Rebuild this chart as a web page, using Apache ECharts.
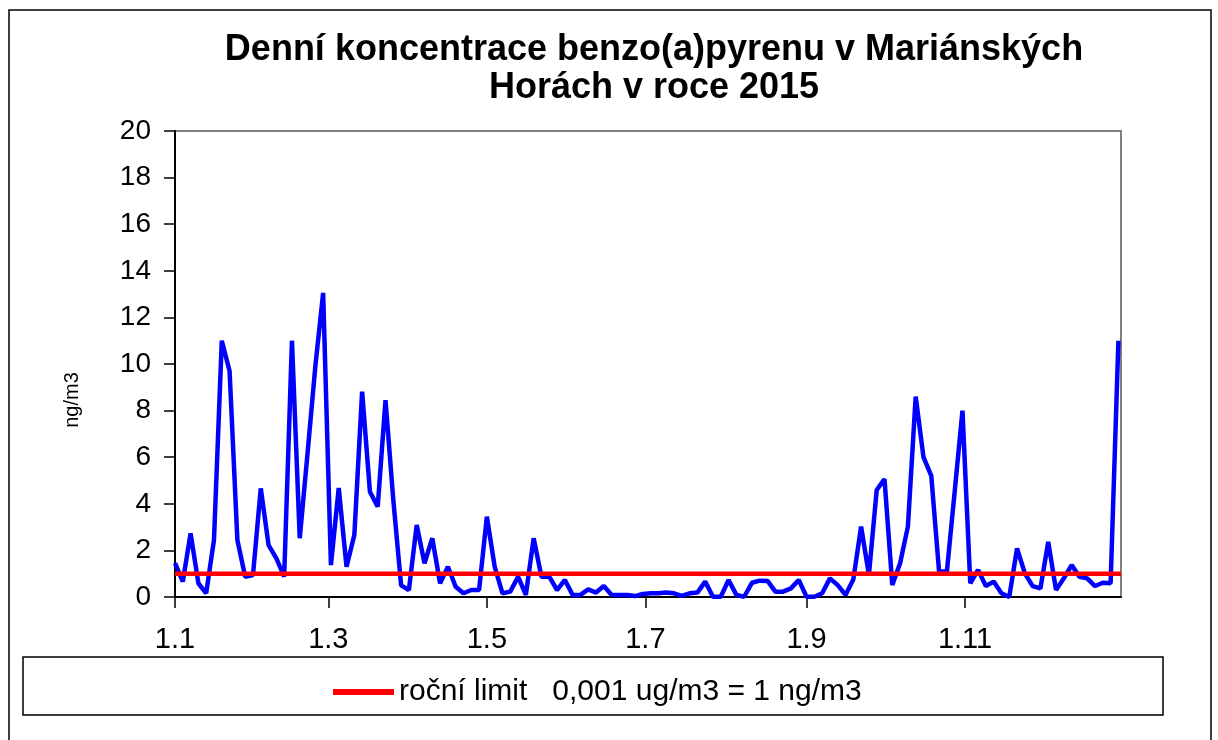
<!DOCTYPE html>
<html>
<head>
<meta charset="utf-8">
<title>Benzo(a)pyren Mariánské Lázně 2015</title>
<script src="https://cdn.jsdelivr.net/npm/echarts@6/dist/echarts.min.js"></script>
<style>
  html, body { margin: 0; padding: 0; background: #fff; }
  #chart { width: 1218px; height: 740px; }
</style>
</head>
<body>
<div id="chart"></div>
<script>
// measurement days (day of year, 0 = 1.1.) and concentrations in ng/m3
var sampleDays = [
  0, 3, 6, 9, 12, 15, 18, 21, 24, 27, 30, 33, 36, 39, 42, 45, 48, 51, 54, 57,
  60, 63, 66, 69, 72, 75, 78, 81, 84, 87, 90, 93, 96, 99, 102, 105, 108, 111, 114, 117,
  120, 123, 126, 129, 132, 135, 138, 141, 144, 147, 150, 153, 156, 159, 162, 165, 168, 171, 174, 177,
  180, 183, 186, 189, 192, 195, 198, 201, 204, 207, 210, 213, 216, 219, 222, 225, 228, 231, 234, 237,
  240, 243, 246, 249, 252, 255, 258, 261, 264, 267, 270, 273, 276, 279, 282, 285, 288, 291, 294, 297,
  300, 303, 306, 309, 312, 315, 318, 321, 324, 327, 330, 333, 336, 339, 342, 345, 348, 351, 354, 357,
  360, 363
];
var bapValues = [
  1.45, 0.66, 2.73, 0.59, 0.16, 2.45, 11.0, 9.7, 2.45, 0.87, 0.94, 4.66, 2.23, 1.66, 0.87, 11.0, 2.52, 6.17, 9.9, 13.05,
  1.37, 4.68, 1.3, 2.66, 8.81, 4.52, 3.88, 8.45, 4.16, 0.5, 0.3, 3.09, 1.45, 2.52, 0.59, 1.3, 0.44, 0.16, 0.3, 0.3,
  3.45, 1.3, 0.16, 0.23, 0.87, 0.09, 2.52, 0.87, 0.87, 0.3, 0.73, 0.09, 0.09, 0.33, 0.19, 0.47, 0.09, 0.09, 0.09, 0.04,
  0.13, 0.16, 0.16, 0.19, 0.16, 0.05, 0.16, 0.19, 0.66, 0.01, 0.01, 0.73, 0.09, 0.01, 0.61, 0.7, 0.69, 0.23, 0.23, 0.37,
  0.73, 0.01, 0.01, 0.16, 0.8, 0.51, 0.09, 0.75, 3.02, 0.95, 4.59, 5.06, 0.51, 1.45, 3.02, 8.6, 6.0, 5.2, 1.09, 1.09,
  4.52, 8.0, 0.59, 1.16, 0.47, 0.66, 0.16, 0.0, 2.09, 1.02, 0.47, 0.37, 2.37, 0.3, 0.8, 1.37, 0.87, 0.8, 0.47, 0.61,
  0.59, 11.0
];
var tickLabels = ['1.1', '1.3', '1.5', '1.7', '1.9', '1.11'];
var limitValue = 1;
var limitName = 'roční limit   0,001 ug/m3 = 1 ng/m3';

// calendar days of 2015 as "d.m" categories
var dayLabels = [];
for (var d = new Date(2015, 0, 1); d.getFullYear() === 2015; d.setDate(d.getDate() + 1)) {
  dayLabels.push(d.getDate() + '.' + (d.getMonth() + 1));
}

var bapData = sampleDays.map(function (day, i) { return [day, bapValues[i]]; });
var limitData = [[0, limitValue], [dayLabels.length - 1, limitValue]];

function isTickDay(index, value) {
  return tickLabels.indexOf(value) >= 0;
}

var font = "'Liberation Sans', Arial, sans-serif";
var chart = echarts.init(document.getElementById('chart'));
chart.setOption({
  animation: false,
  backgroundColor: '#fff',
  title: {
    text: 'Denní koncentrace benzo(a)pyrenu v Mariánských\nHorách v roce 2015',
    left: 649,
    textAlign: 'center',
    top: 26,
    textStyle: {
      fontFamily: font,
      fontSize: 36,
      fontWeight: 'bold',
      color: '#000',
      lineHeight: 38
    }
  },
  graphic: [
    {
      type: 'rect',
      shape: { x: 9, y: 10, width: 1202, height: 760 },
      style: { fill: 'none', stroke: '#000', lineWidth: 1.5 },
      silent: true
    },
    {
      type: 'rect',
      shape: { x: 23, y: 657, width: 1140, height: 58 },
      style: { fill: 'none', stroke: '#000', lineWidth: 1.5 },
      silent: true
    },
    {
      type: 'text',
      x: 72,
      y: 400,
      rotation: Math.PI / 2,
      style: {
        text: 'ng/m3',
        font: '20px ' + font,
        fill: '#000',
        textAlign: 'center',
        textVerticalAlign: 'middle'
      },
      silent: true
    }
  ],
  legend: {
    data: [limitName],
    left: 328,
    top: 672,
    icon: 'rect',
    itemWidth: 61,
    itemHeight: 6,
    itemGap: 10,
    textStyle: { fontFamily: font, fontSize: 30, color: '#000' }
  },
  grid: {
    left: 175,
    right: 97,
    top: 131,
    bottom: 143,
    show: true,
    borderColor: '#808080',
    borderWidth: 2,
    backgroundColor: '#fff'
  },
  xAxis: {
    type: 'category',
    data: dayLabels,
    boundaryGap: false,
    axisLine: { lineStyle: { color: '#000', width: 2 } },
    axisTick: { interval: isTickDay, length: 11, lineStyle: { color: '#000', width: 1.5 } },
    axisLabel: {
      interval: isTickDay,
      margin: 28,
      fontFamily: font,
      fontSize: 29,
      color: '#000'
    },
    splitLine: { show: false }
  },
  yAxis: {
    type: 'value',
    min: 0,
    max: 20,
    interval: 2,
    axisLine: { show: true, lineStyle: { color: '#000', width: 2 } },
    axisTick: { show: true, length: 11, lineStyle: { color: '#000', width: 1.5 } },
    axisLabel: {
      margin: 24,
      fontFamily: font,
      fontSize: 28,
      color: '#000'
    },
    splitLine: { show: false }
  },
  series: [
    {
      name: 'B(a)P',
      type: 'line',
      data: bapData,
      showSymbol: false,
      lineStyle: { color: '#0000ff', width: 4.5 },
      itemStyle: { color: '#0000ff' },
      z: 2
    },
    {
      name: limitName,
      type: 'line',
      data: limitData,
      showSymbol: false,
      lineStyle: { color: '#ff0000', width: 4.5 },
      itemStyle: { color: '#ff0000' },
      z: 3
    }
  ]
});
</script>
</body>
</html>
